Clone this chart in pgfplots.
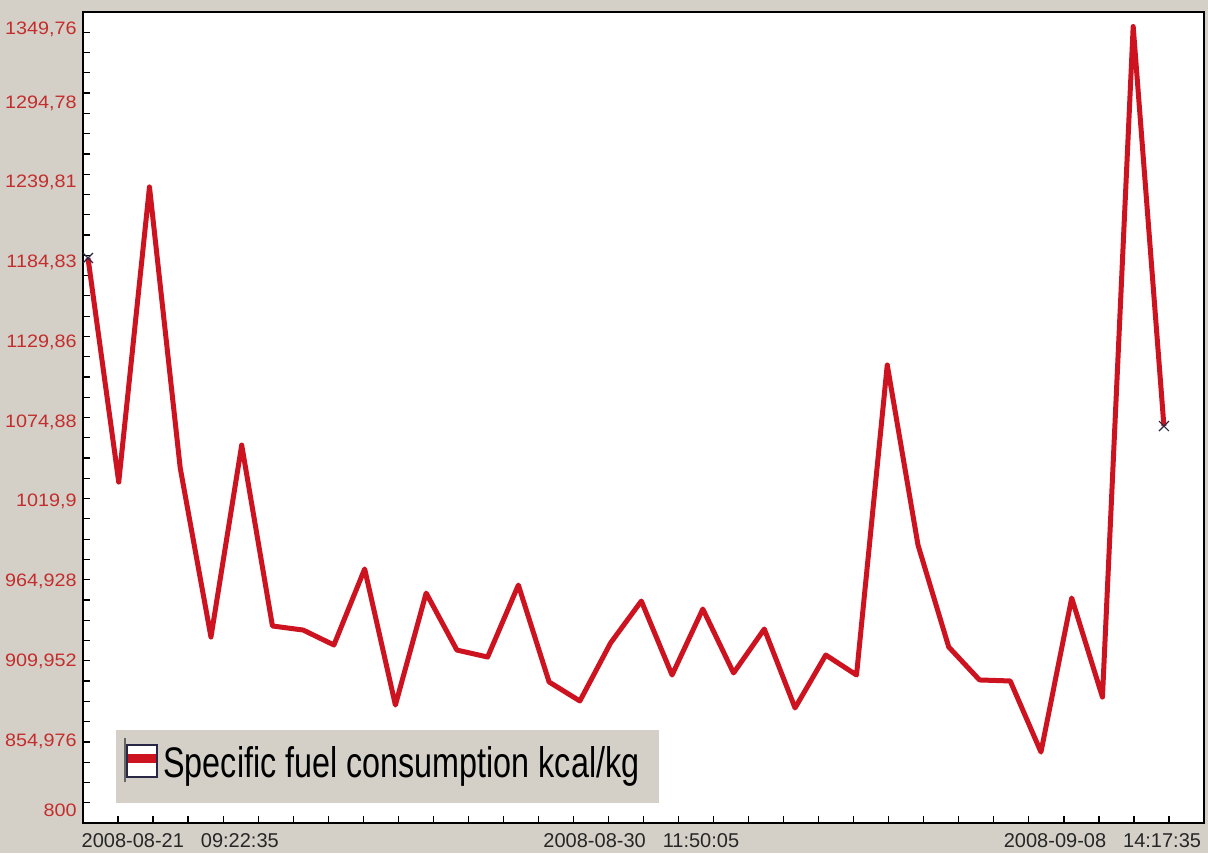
\documentclass[border=0pt]{standalone}
\usepackage{pgfplots}
\pgfplotsset{compat=1.18}
\usepackage{fontspec}
\setmainfont{Liberation Sans}
\usepackage{graphicx}
\definecolor{bggrey}{RGB}{212,208,200}
\definecolor{linered}{RGB}{205,18,32}
\definecolor{labred}{RGB}{196,45,45}
\definecolor{marknavy}{RGB}{40,40,70}
\newcommand{\yl}[1]{\scalebox{1.1}[1]{#1}}
\begin{document}
\begin{tikzpicture}
\useasboundingbox (-41.5pt,-15pt) rectangle (562.5pt,411.5pt);
\fill[bggrey] (-41.5pt,-15pt) rectangle (562.5pt,411.5pt);
\begin{axis}[
  at={(0pt,0pt)}, anchor=south west,
  scale only axis, width=560.5pt, height=405.5pt,
  xmin=-0.1627, xmax=36.304, ymin=798.5, ymax=1357.5,
  axis background/.style={fill=white},
  axis line style={black, line width=0.8pt},
  tick align=inside,
  xtick pos=bottom, ytick pos=left,
  major tick length=0pt,
  minor tick length=3.5pt,
  minor tick style={black, line width=0.6pt},
  xtick={3,18,33},
  xticklabels={2008-08-21\hspace{8.5pt}09:22:35, 2008-08-30\hspace{8.5pt}11:50:05, 2008-09-08\hspace{8.5pt}14:17:35},
  minor xtick={0.9769,2.1165,...,35.2},
  ytick={807.5,854.976,909.952,964.928,1019.9,1074.88,1129.86,1184.83,1239.81,1294.78,1345.8},
  yticklabels={\yl{800},\yl{854,976},\yl{909,952},\yl{964,928},\yl{1019,9},\yl{1074,88},\yl{1129,86},\yl{1184,83},\yl{1239,81},\yl{1294,78},\yl{1349,76}},
  minor ytick={812.475,826.45,...,1344},
  xticklabel style={font=\fontsize{10}{10}\selectfont, text=black!85, inner sep=0pt, anchor=north, yshift=-5pt},
  yticklabel style={font=\fontsize{9}{9}\selectfont, text=labred, inner sep=0pt, anchor=east, xshift=-3pt},
]
\addplot[linered, line width=2.5pt, line join=round] coordinates {
(0,1187.9) (1,1033.5) (2,1236.9) (3,1043.2) (4,926.7) (5,1059.0) (6,934.3) (7,931.5)
(8,921.2) (9,973.6) (10,879.8) (11,957.0) (12,917.7) (13,912.9) (14,962.5) (15,895.7)
(16,882.6) (17,922.6) (18,951.5) (19,900.5) (20,946.0) (21,901.9) (22,932.2) (23,877.8)
(24,914.3) (25,900.5) (26,1114.2) (27,990.1) (28,919.8) (29,897.1) (30,896.4) (31,847.4)
(32,953.6) (33,885.3) (34,1347.5) (35,1072.1)
};
\addplot[only marks, mark=x, mark size=3.5pt, color=marknavy, mark options={line width=0.6pt}] coordinates {(0,1187.9) (35,1072.1)};
\end{axis}
% legend box
\fill[bggrey] (16.5pt,10pt) rectangle (288pt,46.5pt);
\draw[black!60, line width=0.6pt] (21pt,20.5pt) -- (21pt,42.5pt);
\filldraw[fill=white, draw=marknavy, line width=0.8pt] (22pt,23pt) rectangle (37pt,39pt);
\fill[linered] (22.6pt,30pt) rectangle (36.4pt,34.5pt);
\node[anchor=base west, inner sep=0pt] at (40pt,23pt) {\resizebox{238pt}{15.5pt}{Specific fuel consumption kcal/kg}};
\end{tikzpicture}
\end{document}
